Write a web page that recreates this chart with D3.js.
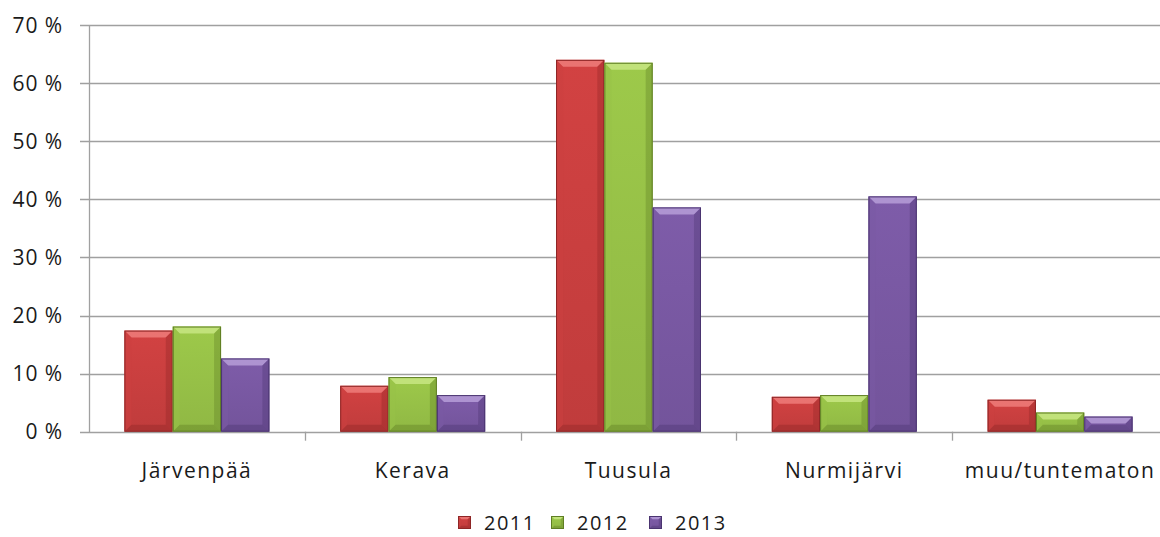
<!DOCTYPE html>
<html>
<head>
<meta charset="utf-8">
<script src="https://cdn.jsdelivr.net/npm/d3@7"></script>
<style>
  body { margin: 0; background: #fff; }
  text { font-family: "Open Sans", "DejaVu Sans", sans-serif; fill: #1a1a1a; }
</style>
</head>
<body>
<div id="chart"></div>
<script>
  // data
  var categories = ['Järvenpää', 'Kerava', 'Tuusula', 'Nurmijärvi', 'muu/tuntematon'];
  var seriesNames = ['2011', '2012', '2013'];
  var values2011 = [17.4, 7.9, 64.0, 6.0, 5.5];
  var values2012 = [18.1, 9.4, 63.5, 6.3, 3.3];
  var values2013 = [12.6, 6.3, 38.6, 40.5, 2.6];
  var yTicks = [0, 10, 20, 30, 40, 50, 60, 70];

  var colors = [
    { base: '#d24242', light: '#ee7c7a', dark: '#8e2626' },
    { base: '#9dc94a', light: '#c8e682', dark: '#5f7e24' },
    { base: '#7e5ca9', light: '#b69dd8', dark: '#4a3470' }
  ];

  var width = 1160, height = 537;
  var plotLeft = 89, plotRight = 1168, plotTop = 25, plotBottom = 431.7;
  var fontSize = 21;
  var spacing = 1.5;

  var svg = d3.select('#chart')
    .append('svg')
    .attr('width', width)
    .attr('height', height);

  var series = [values2011, values2012, values2013].map(function (vals, i) {
    return { name: seriesNames[i], values: vals, color: colors[i] };
  });

  var x0 = d3.scaleBand()
    .domain(categories)
    .range([plotLeft, plotRight])
    .paddingInner(0)
    .paddingOuter(0);

  var x1 = d3.scaleBand()
    .domain(seriesNames)
    .range([0, x0.bandwidth()])
    .paddingInner(0)
    .paddingOuter(0.733);

  var y = d3.scaleLinear()
    .domain([0, 70])
    .range([plotBottom, plotTop]);

  // gradients for bar bodies
  var defs = svg.append('defs');
  colors.forEach(function (c, i) {
    var g = defs.append('linearGradient')
      .attr('id', 'grad' + i)
      .attr('x1', 0).attr('x2', 0).attr('y1', 0).attr('y2', 1);
    g.append('stop').attr('offset', '0%').attr('stop-color', c.base);
    g.append('stop').attr('offset', '100%').attr('stop-color', d3.color(c.base).darker(0.25));
  });

  // gridlines
  svg.append('g')
    .selectAll('line')
    .data(yTicks)
    .enter()
    .append('line')
    .attr('x1', plotLeft - 9)
    .attr('x2', plotRight)
    .attr('y1', function (d) { return Math.round(y(d)) + 0.5; })
    .attr('y2', function (d) { return Math.round(y(d)) + 0.5; })
    .attr('stroke', '#a0a0a0')
    .attr('stroke-width', 1.3);

  // y labels
  svg.append('g')
    .selectAll('text')
    .data(yTicks)
    .enter()
    .append('text')
    .attr('x', 63)
    .attr('y', function (d) { return y(d) + 7.5; })
    .attr('text-anchor', 'end')
    .style('font-size', fontSize + 'px')
    .style('letter-spacing', '1px')
    .text(function (d) { return d + '\u2005%'; });

  // y axis line
  svg.append('line')
    .attr('x1', plotLeft + 0.5).attr('x2', plotLeft + 0.5)
    .attr('y1', plotTop).attr('y2', plotBottom + 1)
    .attr('stroke', '#a0a0a0')
    .attr('stroke-width', 1.3);

  // category ticks
  svg.append('g')
    .selectAll('line')
    .data(categories.slice(1))
    .enter()
    .append('line')
    .attr('x1', function (d) { return Math.round(x0(d)) + 0.5; })
    .attr('x2', function (d) { return Math.round(x0(d)) + 0.5; })
    .attr('y1', plotBottom)
    .attr('y2', plotBottom + 9)
    .attr('stroke', '#a0a0a0')
    .attr('stroke-width', 1.3);

  // category labels
  svg.append('g')
    .selectAll('text')
    .data(categories)
    .enter()
    .append('text')
    .attr('x', function (d) { return x0(d) + x0.bandwidth() / 2; })
    .attr('y', 478)
    .attr('text-anchor', 'middle')
    .style('font-size', fontSize + 'px')
    .style('letter-spacing', spacing + 'px')
    .text(function (d) { return d; });

  function drawBevelBar (g, bx, by, w, h, c, gradId) {
    var b = Math.min(7, h / 2.2, w / 4);
    var x2 = bx + w, y2 = by + h;
    g.append('rect')
      .attr('x', bx).attr('y', by)
      .attr('width', w).attr('height', h)
      .attr('fill', 'url(#' + gradId + ')');
    // top facet
    g.append('path')
      .attr('d', 'M' + bx + ',' + by + 'L' + x2 + ',' + by + 'L' + (x2 - b) + ',' + (by + b) + 'L' + (bx + b) + ',' + (by + b) + 'Z')
      .attr('fill', c.light)
      .attr('opacity', 0.85);
    // left facet
    g.append('path')
      .attr('d', 'M' + bx + ',' + by + 'L' + (bx + b) + ',' + (by + b) + 'L' + (bx + b) + ',' + (y2 - b) + 'L' + bx + ',' + y2 + 'Z')
      .attr('fill', d3.color(c.base).darker(0.1))
      .attr('opacity', 0.5);
    // right facet
    g.append('path')
      .attr('d', 'M' + x2 + ',' + by + 'L' + (x2 - b) + ',' + (by + b) + 'L' + (x2 - b) + ',' + (y2 - b) + 'L' + x2 + ',' + y2 + 'Z')
      .attr('fill', c.dark)
      .attr('opacity', 0.35);
    // bottom facet
    g.append('path')
      .attr('d', 'M' + bx + ',' + y2 + 'L' + (bx + b) + ',' + (y2 - b) + 'L' + (x2 - b) + ',' + (y2 - b) + 'L' + x2 + ',' + y2 + 'Z')
      .attr('fill', c.dark)
      .attr('opacity', 0.4);
    g.append('rect')
      .attr('x', bx + 0.5).attr('y', by + 0.5)
      .attr('width', w - 1).attr('height', Math.max(0, h - 1))
      .attr('fill', 'none')
      .attr('stroke', c.dark)
      .attr('stroke-width', 1);
  }

  // bars
  var barLayer = svg.append('g');
  series.forEach(function (s, si) {
    s.values.forEach(function (v, ci) {
      var cat = categories[ci];
      var bx = x0(cat) + x1(s.name);
      var by = y(v);
      drawBevelBar(barLayer.append('g'), bx, by, x1.bandwidth(), y(0) - by, s.color, 'grad' + si);
    });
  });

  // legend
  var legendX = [458, 551, 649];
  var legend = svg.append('g');
  series.forEach(function (s, i) {
    var lg = legend.append('g');
    drawBevelBar(lg, legendX[i], 516, 13, 13, s.color, 'grad' + i);
    lg.append('text')
      .attr('x', legendX[i] + 26)
      .attr('y', 530)
      .style('font-size', '20px')
      .style('letter-spacing', spacing + 'px')
      .text(s.name);
  });
</script>
</body>
</html>
